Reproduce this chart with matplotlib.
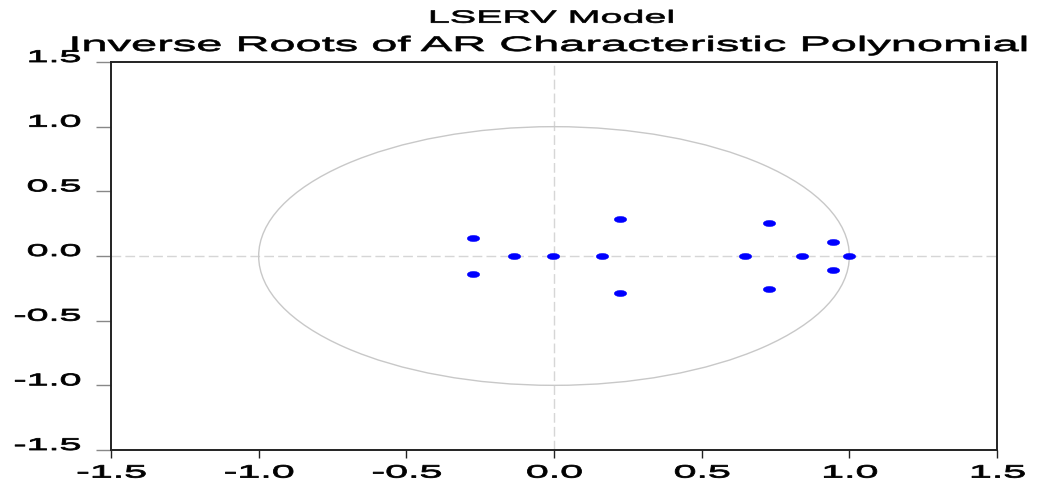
import numpy as np
import matplotlib
matplotlib.use('Agg')
import matplotlib.pyplot as plt
from matplotlib import patheffects
from matplotlib.transforms import Affine2D
from matplotlib.path import Path
from matplotlib.patches import Circle

# ---- data: inverse roots (real, imaginary) ----
root_re = [-0.274, -0.274, -0.135, -0.004, 0.161, 0.222, 0.222,
           0.646, 0.727, 0.727, 0.840, 0.944, 0.944, 1.000]
root_im = [0.141, -0.141, 0.0, 0.0, 0.0, 0.285, -0.285,
           0.0, 0.254, -0.254, 0.0, 0.110, -0.110, 0.0]
tick_vals = [-1.5, -1.0, -0.5, 0.0, 0.5, 1.0, 1.5]
tick_labels = ['-1.5', '-1.0', '-0.5', '0.0', '0.5', '1.0', '1.5']
title_top = 'LSERV Model'
title_main = 'Inverse Roots of AR Characteristic Polynomial'


class HStretch(patheffects.AbstractPathEffect):
    """Draw text stretched horizontally about an anchor, with a thin stroke."""
    def __init__(self, sx, anchor='center', stroke=0.5):
        super().__init__()
        self.sx = sx
        self.anchor = anchor
        self.stroke = stroke

    def draw_path(self, renderer, gc, tpath, affine, rgbFace=None):
        v = tpath.vertices
        if len(v):
            x0, x1 = v[:, 0].min(), v[:, 0].max()
        else:
            x0 = x1 = 0.0
        a = {'left': x0, 'center': 0.5 * (x0 + x1), 'right': x1}[self.anchor]
        t = Affine2D().translate(-a, 0).scale(self.sx, 1).translate(a, 0) + affine
        gc0 = renderer.new_gc()
        gc0.copy_properties(gc)
        if rgbFace is not None and self.stroke > 0:
            gc0.set_foreground(rgbFace)
            gc0.set_linewidth(self.stroke)
        renderer.draw_path(gc0, tpath, t, rgbFace)
        gc0.restore()


plt.rcParams['font.family'] = ['Liberation Sans', 'DejaVu Sans']

W, H = 1039, 487
fig = plt.figure(figsize=(W / 100, H / 100), dpi=100)
ax = fig.add_axes([111 / W, (H - 450) / H, 886 / W, 388 / H])

ax.set_xlim(-1.5, 1.5)
ax.set_ylim(-1.5, 1.5)

# zero lines and unit circle
ax.axhline(0, color='#d6d6d6', lw=1.0, ls=(0, (7, 3)), zorder=1)
ax.axvline(0, color='#d6d6d6', lw=1.0, ls=(0, (7, 3)), zorder=1)
ax.add_patch(Circle((0, 0), 1.0, fill=False, edgecolor='#c8c8c8', lw=1.0, zorder=2))

# ellipse marker (wider than tall)
ell = Path.unit_circle().transformed(Affine2D().scale(2.0, 1.0))
ax.plot(root_re, root_im, ls='none', marker=ell, markersize=9.0,
        markerfacecolor='#0000ff', markeredgecolor='#0000ff', markeredgewidth=0.3,
        zorder=5)

for s in ax.spines.values():
    s.set_linewidth(1.4)
    s.set_color('#222222')

ax.set_xticks(tick_vals)
ax.set_xticklabels(tick_labels)
ax.set_yticks(tick_vals)
ax.set_yticklabels(tick_labels)
ax.tick_params(axis='x', direction='out', length=6, width=1.0, color='#222222',
               labelsize=12.9, pad=4.5)
ax.tick_params(axis='y', direction='out', length=11, width=1.0, color='#888888',
               labelsize=12.2, pad=11)

for lbl in ax.get_xticklabels():
    lbl.set_path_effects([HStretch(2.3, 'center', 0.6)])
for lbl in ax.get_yticklabels():
    lbl.set_verticalalignment('baseline')
    lbl.set_path_effects([HStretch(2.33, 'right', 0.6)])

fig.text(551 / W, (H - 22.7) / H, title_top, ha='center', va='baseline',
         fontsize=12.75, path_effects=[HStretch(2.23, 'center', 0.5)])
fig.text(548.5 / W, (H - 51) / H, title_main, ha='center', va='baseline',
         fontsize=15.1, path_effects=[HStretch(2.24, 'center', 0.5)])

fig.savefig('out.png', dpi=100)
